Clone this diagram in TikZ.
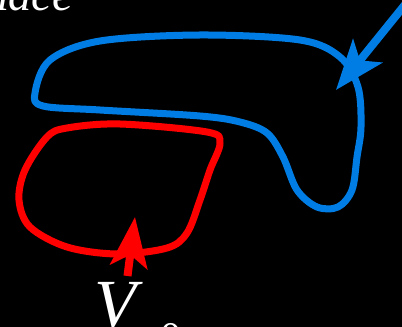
\documentclass[tikz,border=0pt]{standalone}
\usepackage{fontspec}
\setmainfont{Liberation Serif}
\usetikzlibrary{arrows.meta}
\definecolor{loopblue}{RGB}{0,125,228}
\definecolor{loopred}{RGB}{255,0,0}
\begin{document}
\begin{tikzpicture}[x=0.025cm, y=-0.025cm,
  loop/.style={line width=0.175cm, line join=round},
  pointer/.style={line width=0.2cm, -{Stealth[length=1.25cm, width=0.93cm, inset=0.3cm]}}]
  \fill[black] (0,0) rectangle (402,327);
  \useasboundingbox (0,0) rectangle (402,327);
  % blue loop
  \draw[loop, loopblue] plot[smooth cycle, tension=0.55] coordinates {
    (35,93) (50,60) (100,41) (200,35) (300,40) (340,57) (358,87) (361,127)
    (357,157) (352,190) (338,207) (317,207) (297,190) (283,157) (267,133)
    (240,122) (200,116) (100,110) (43,106)};
  % red loop
  \draw[loop, loopred] plot[smooth cycle, tension=0.55] coordinates {
    (47,137) (67,128) (120,124) (207,132) (220,143) (210,170) (200,200)
    (187,233) (167,248) (117,254) (67,247) (30,227) (19,200) (25,170)};
  % arrows
  \coordinate (bluetail) at (412,-4);
  \coordinate (bluetip) at (336,90);
  \coordinate (redtail) at (127.5,276);
  \coordinate (redtip) at (135,217);
  \draw[pointer, loopblue] (bluetail) -- (bluetip);
  \draw[pointer, loopred] (redtail) -- (redtip);
  % labels
  \node[anchor=base east, inner sep=0pt, text=white, font=\fontsize{33pt}{33pt}\selectfont\itshape] (toplabel) at (73,11) {nace};
  \node[anchor=base west, inner sep=0pt, text=white, font=\fontsize{49pt}{49pt}\selectfont] (vlabel) at (94,328)
    {\textit{V}\kern0.25em\raisebox{-0.34em}{\fontsize{30pt}{30pt}\selectfont 0}};
\end{tikzpicture}
\end{document}
